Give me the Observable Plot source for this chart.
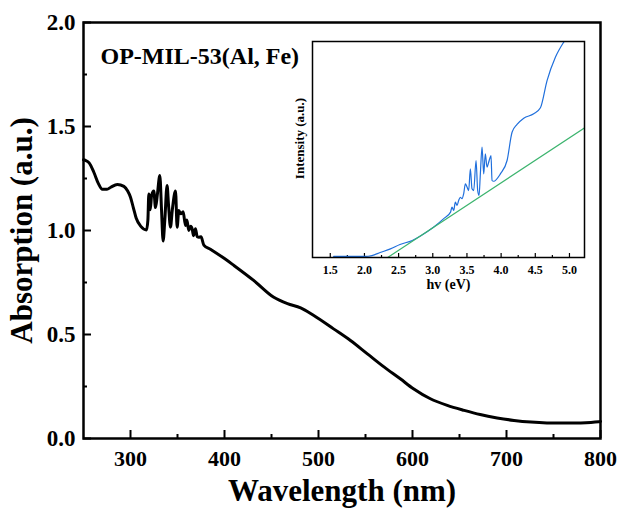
<!DOCTYPE html>
<html><head><meta charset="utf-8">
<script src="https://cdn.jsdelivr.net/npm/d3@7"></script>
<script src="https://cdn.jsdelivr.net/npm/@observablehq/plot@0.6"></script>
<style>
body{margin:0;background:#fff;}
#wrap{position:relative;width:619px;height:509px;background:#fff;}
#wrap svg{position:absolute;left:0;top:0;}
</style></head><body><div id="wrap"></div>
<script>
// Main spectrum
const wavelength = [250,252,256,261,266,270,275,279,286,293,297,300,303,306,311,317,318.5,319.5,321,322.5,324.8,326.6,328.5,331.2,333,334.7,336.5,338.9,340.5,342.5,344.5,347.9,349.6,351.4,353.5,356,358.5,360,362,364,365.6,367,369.1,371,372.7,375,378,385,400,410,431,452,467,481,495,516,534,552,570,587,601,619,637,655,672,690,708,726,743,761,779,798,800];
const absorption = [1.34,1.337,1.325,1.28,1.224,1.198,1.198,1.208,1.221,1.212,1.19,1.16,1.11,1.06,1.02,1.003,1.05,1.176,1.10,1.17,1.19,1.11,1.17,1.264,1.10,0.95,1.05,1.216,1.12,1.016,1.10,1.19,1.016,1.096,1.08,1.09,1.024,1.05,1.0,1.02,1.008,0.975,1.008,0.97,0.968,0.97,0.93,0.91,0.865,0.832,0.76,0.68,0.648,0.628,0.591,0.527,0.471,0.407,0.343,0.287,0.239,0.191,0.159,0.135,0.115,0.099,0.087,0.079,0.075,0.074,0.075,0.080,0.082];
// Inset (Tauc-like plot)
const insetEnergy = [1.55,1.75,2.0,2.11,2.23,2.38,2.52,2.70,2.82,3.01,3.16,3.26,3.281,3.306,3.330,3.355,3.379,3.403,3.428,3.452,3.477,3.501,3.525,3.550,3.574,3.599,3.633,3.657,3.677,3.696,3.721,3.745,3.769,3.794,3.818,3.833,3.852,3.867,3.891,3.989,4.087,4.160,4.233,4.331,4.477,4.575,4.672,4.794,4.916,4.965];
const insetIntensity = [0.005,0.005,0.005,0.009,0.023,0.04,0.06,0.079,0.10,0.14,0.18,0.21,0.233,0.218,0.256,0.241,0.264,0.279,0.272,0.295,0.341,0.326,0.310,0.410,0.318,0.310,0.449,0.310,0.287,0.387,0.511,0.387,0.480,0.418,0.441,0.457,0.472,0.356,0.353,0.387,0.449,0.580,0.616,0.645,0.665,0.693,0.819,0.927,0.997,1.02];
const fitEnergy = [2.34, 5.22];
const fitIntensity = [0, 0.60];
// Ticks and labels
const xMajor = [300,400,500,600,700,800];
const xMinor = [350,450,550,650,750];
const yMajor = [0,0.5,1.0,1.5,2.0];
const yMinor = [0.25,0.75,1.25,1.75];
const insetMajor = [1.5,2.0,2.5,3.0,3.5,4.0,4.5,5.0];
const insetMinor = [1.75,2.25,2.75,3.25,3.75,4.25,4.75];
const sampleLabel = "OP-MIL-53(Al, Fe)";
const xTitle = "Wavelength (nm)";
const yTitle = "Absorption (a.u.)";
const insetXTitle = "hv (eV)";
const insetYTitle = "Intensity (a.u.)";

const font = "'Liberation Serif','Times New Roman',serif";
const mainData = wavelength.map((w,i)=>({w, a: absorption[i]}));
const insetData = insetEnergy.map((e,i)=>({e, v: insetIntensity[i]}));
const fitData = fitEnergy.map((e,i)=>({e, v: fitIntensity[i]}));

const W = 619, H = 509;
const mL = 83, mR = 19, mT = 22, mB = 71;
const pw = W - mL - mR, ph = H - mT - mB;

const main = Plot.plot({
  width: W, height: H,
  marginLeft: mL, marginRight: mR, marginTop: mT, marginBottom: mB,
  style: {fontFamily: font, fontWeight: "bold", background: "transparent", color: "#000", overflow: "visible"},
  x: {domain: [250, 800]},
  y: {domain: [0, 2]},
  marks: [
    Plot.axisX(xMajor, {tickSize: 0, tickPadding: 12, fontSize: 22, label: null, tickFormat: d => d}),
    Plot.axisY(yMajor, {tickSize: 0, tickPadding: 8, fontSize: 23, label: null, tickFormat: d3.format(".1f")}),
    Plot.tickX(xMajor, {x: d => d, insetTop: ph - 8, stroke: "#000", strokeWidth: 2}),
    Plot.tickX(xMinor, {x: d => d, insetTop: ph - 4, stroke: "#000", strokeWidth: 2}),
    Plot.tickY(yMajor, {y: d => d, insetRight: pw - 8, stroke: "#000", strokeWidth: 2}),
    Plot.tickY(yMinor, {y: d => d, insetRight: pw - 4, stroke: "#000", strokeWidth: 2}),
    Plot.line(mainData, {x: "w", y: "a", stroke: "#000", strokeWidth: 3, curve: "monotone-x"}),
    Plot.frame({stroke: "#000", strokeWidth: 2.5}),
    Plot.text([sampleLabel], {text: d => d, frameAnchor: "top-left", dx: 17, dy: 34, textAnchor: "start", lineAnchor: "middle", fontSize: 24, fontWeight: "bold"}),
    Plot.text([xTitle], {text: d => d, frameAnchor: "bottom", dy: 53, textAnchor: "middle", lineAnchor: "middle", fontSize: 31, fontWeight: "bold"}),
    Plot.text([yTitle], {text: d => d, frameAnchor: "left", dx: -61, rotate: -90, textAnchor: "middle", lineAnchor: "middle", fontSize: 31, fontWeight: "bold"})
  ]
});

const iL = 312, iR = 35, iT = 41, iB = 252;
const iw = W - iL - iR, ih = H - iT - iB;

const inset = Plot.plot({
  width: W, height: H,
  marginLeft: iL, marginRight: iR, marginTop: iT, marginBottom: iB,
  style: {fontFamily: font, fontWeight: "bold", background: "transparent", color: "#000", overflow: "visible"},
  x: {domain: [1.24, 5.22]},
  y: {domain: [0, 1], axis: null},
  marks: [
    Plot.axisX(insetMajor, {tickSize: 0, tickPadding: 8, fontSize: 12, label: null, tickFormat: d3.format(".1f")}),
    Plot.tickX(insetMajor, {x: d => d, insetTop: ih - 4, stroke: "#000", strokeWidth: 1.2}),
    Plot.tickX(insetMinor, {x: d => d, insetTop: ih - 2, stroke: "#000", strokeWidth: 1.2}),
    Plot.line(insetData, {x: "e", y: "v", stroke: "#1f6fdc", strokeWidth: 1.2, curve: "monotone-x", clip: true}),
    Plot.line(fitData, {x: "e", y: "v", stroke: "#3cb46e", strokeWidth: 1.2, clip: true}),
    Plot.frame({stroke: "#000", strokeWidth: 1.5}),
    Plot.text([insetXTitle], {text: d => d, frameAnchor: "bottom", dy: 27, textAnchor: "middle", lineAnchor: "middle", fontSize: 14, fontWeight: "bold"}),
    Plot.text([insetYTitle], {text: d => d, frameAnchor: "left", dx: -13, dy: -11, rotate: -90, textAnchor: "middle", lineAnchor: "middle", fontSize: 13, fontWeight: "bold"})
  ]
});

const wrap = document.getElementById("wrap");
wrap.appendChild(main);
wrap.appendChild(inset);
</script>
</body></html>
